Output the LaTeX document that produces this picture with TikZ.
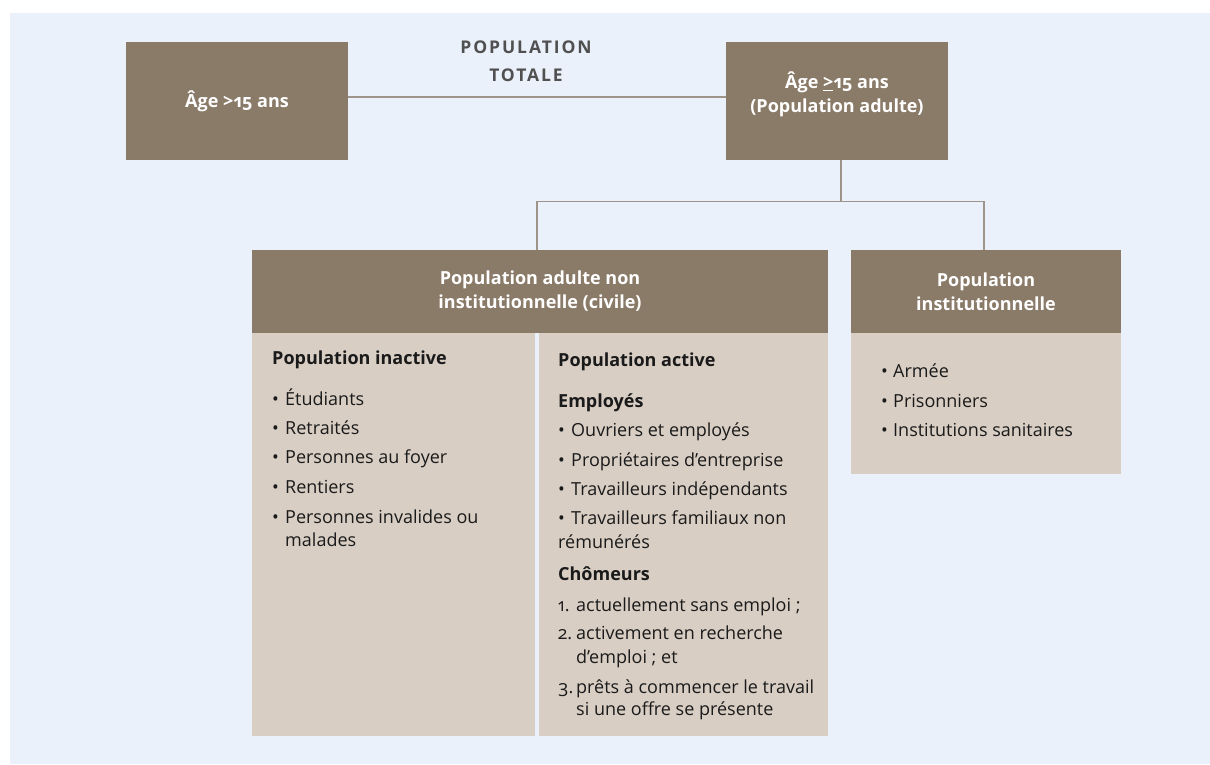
\documentclass[tikz,border=0pt]{standalone}
\usepackage{fontspec}
\setmainfont{Open Sans}[Numbers=OldStyle]
\definecolor{bgblue}{RGB}{234,241,250}
\definecolor{hdr}{RGB}{138,122,104}
\definecolor{panel}{RGB}{216,206,196}
\definecolor{wire}{RGB}{158,148,138}
\definecolor{ink}{RGB}{26,26,26}
\definecolor{titleink}{RGB}{80,80,80}
\newcommand{\bodyfont}{\fontsize{18}{24}\selectfont}
\newcommand{\bul}{\makebox[13pt][l]{•}}
\newcommand{\num}[1]{\makebox[18pt][l]{#1}}
\tikzset{
  darkbox/.style={fill=hdr, text=white, align=center, inner sep=0pt, font=\bodyfont\bfseries},
  panelbox/.style={fill=panel, inner sep=0pt},
  txt/.style={anchor=base west, inner sep=0pt, text=ink, font=\bodyfont},
  head/.style={txt, font=\bodyfont\bfseries},
  wireline/.style={draw=wire, line width=1.5pt}
}
\begin{document}
\begin{tikzpicture}[x=1pt,y=-1pt]
\useasboundingbox (0,0) rectangle (1210,764);
\fill[bgblue] (10,13) rectangle (1210,764);

% top row
\node[darkbox, minimum width=222pt, minimum height=118pt] (age) at (237,101) {Âge >15 ans};
\node[darkbox, minimum width=222pt, minimum height=118pt,
      label={[font=\bodyfont\bfseries, text=white, align=center, yshift=6.5pt]center:{Âge \underline{>}15 ans\\(Population adulte)}}]
      (adult) at (837,101) {};
\node[font=\fontsize{17.5}{28}\selectfont\bfseries\addfontfeatures{LetterSpace=11},
      text=titleink, align=center, inner sep=0pt] (total) at (526,61) {POPULATION\\TOTALE};

% civil population block
\node[darkbox, minimum width=576pt, minimum height=83pt] (civ) at (540,291.5)
  {Population adulte non\\institutionnelle (civile)};
\node[panelbox, minimum width=283pt, minimum height=403pt] (inactive) at (393.5,534.5) {};
\node[panelbox, minimum width=289pt, minimum height=403pt] (active) at (683.5,534.5) {};

% institutional population block
\node[darkbox, minimum width=270pt, minimum height=83pt] (inst) at (986,291.5)
  {Population\\institutionnelle};
\node[panelbox, minimum width=270pt, minimum height=141pt] (instbody) at (986,403.5) {};

% connectors
\draw[wireline] ([yshift=4pt]age.east) -- ([yshift=4pt]adult.west);
\coordinate (fork) at ([xshift=4pt]adult.south |- 0,201.7);
\draw[wireline] ([xshift=4pt]adult.south) -- (fork);
\draw[wireline] ([xshift=-3pt]civ.north) |- (fork) -| ([xshift=-2pt]inst.north);

% inactive column
\node[head] (ina) at (272,364) {Population inactive};
\node[txt] (ina1) at (272,405) {\bul Étudiants};
\node[txt] (ina2) at (272,434) {\bul Retraités};
\node[txt] (ina3) at (272,463) {\bul Personnes au foyer};
\node[txt] (ina4) at (272,493) {\bul Rentiers};
\node[txt] (ina5) at (272,523) {\bul Personnes invalides ou};
\node[txt] (ina5b) at (285,546) {malades};

% active column
\node[head] (act) at (558,366) {Population active};
\node[head] (emp) at (558,407) {Employés};
\node[txt] (emp1) at (558,436) {\bul Ouvriers et employés};
\node[txt] (emp2) at (558,466) {\bul Propriétaires d'entreprise};
\node[txt] (emp3) at (558,495) {\bul Travailleurs indépendants};
\node[txt] (emp4) at (558,524) {\bul Travailleurs familiaux non};
\node[txt] (emp4b) at (558,548) {rémunérés};
\node[head] (cho) at (558,580) {Chômeurs};
\node[txt] (cho1) at (558,611) {\num{1.}actuellement sans emploi ;};
\node[txt] (cho2) at (558,639) {\num{2.}activement en recherche};
\node[txt] (cho2b) at (576,663) {d'emploi ; et};
\node[txt] (cho3) at (558,693) {\num{3.}prêts à commencer le travail};
\node[txt] (cho3b) at (576,715) {si une offre se présente};

% institutional list
\node[txt] (ins1) at (881,377) {\makebox[12pt][l]{•}Armée};
\node[txt] (ins2) at (881,407) {\makebox[12pt][l]{•}Prisonniers};
\node[txt] (ins3) at (881,436) {\makebox[12pt][l]{•}Institutions sanitaires};
\end{tikzpicture}
\end{document}
